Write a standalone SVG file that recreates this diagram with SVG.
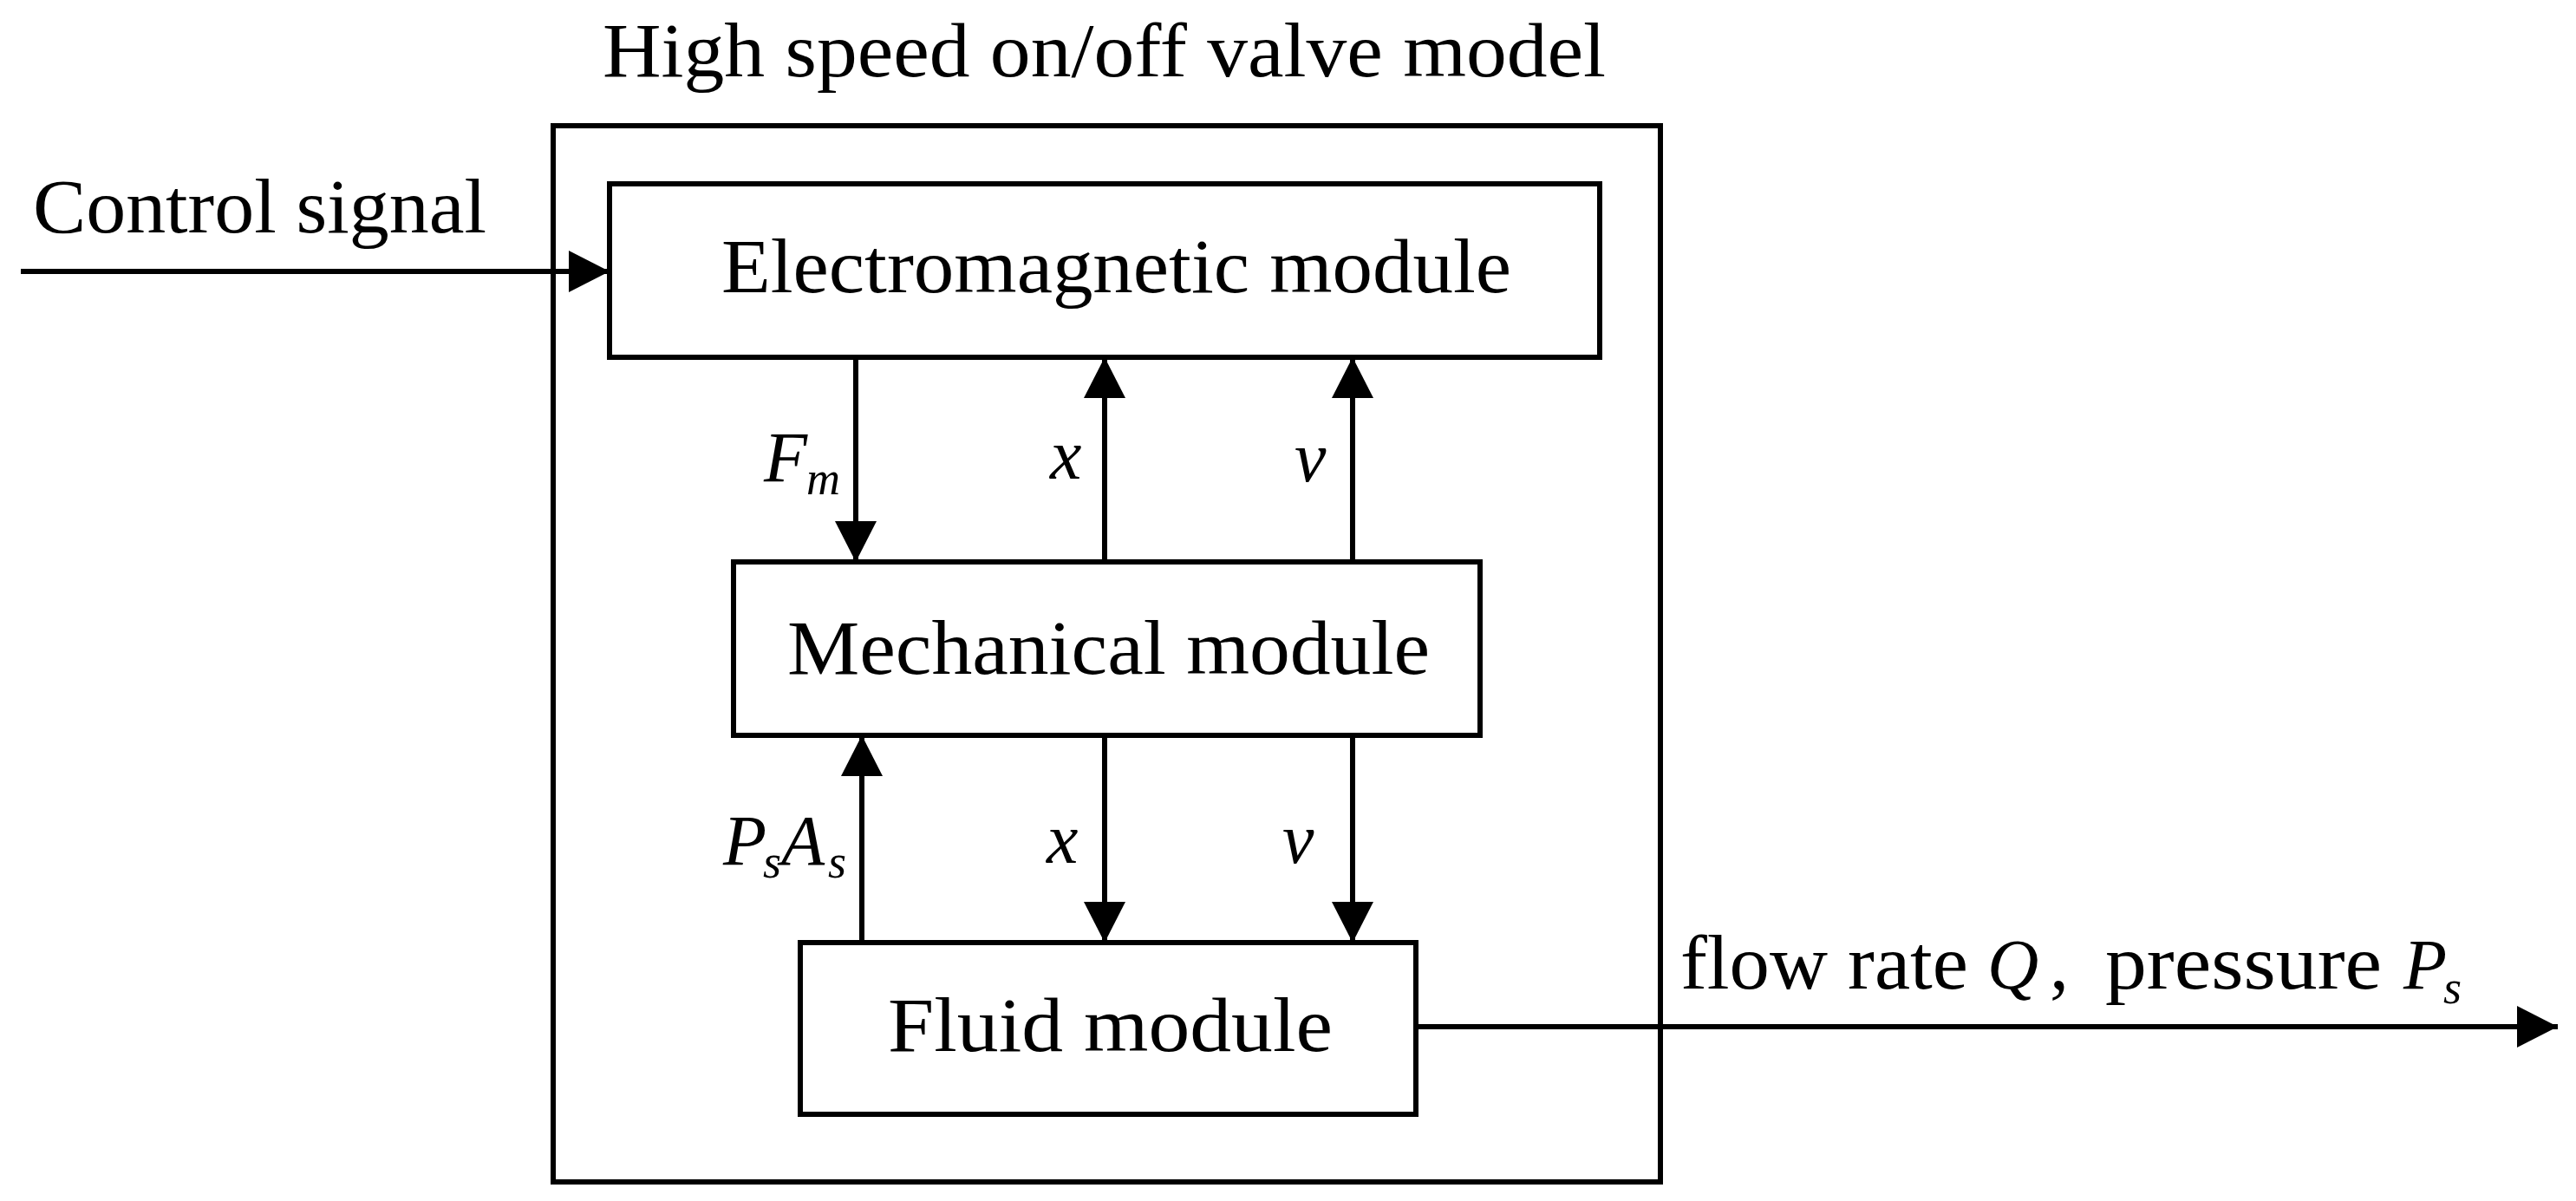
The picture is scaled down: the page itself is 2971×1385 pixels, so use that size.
<svg xmlns="http://www.w3.org/2000/svg" width="2971" height="1385" viewBox="0 0 2971 1385">
<style>
.box{fill:#fff;stroke:#000;stroke-width:6}
.ln{fill:none;stroke:#000;stroke-width:6}
.t{font-family:"Liberation Serif","Times New Roman",serif;font-size:88px;fill:#000}
.m{font-family:"Liberation Serif","Times New Roman",serif;font-style:italic;font-size:82px;fill:#000}
.s{font-family:"Liberation Serif","Times New Roman",serif;font-style:italic;font-size:54px;fill:#000}
</style>
<defs>
<marker id="ah" markerUnits="userSpaceOnUse" markerWidth="50" markerHeight="50" refX="47" refY="24" orient="auto">
<path d="M0,0 L47,24 L0,48 Z" fill="#000"/>
</marker>
</defs>
<rect width="2971" height="1385" fill="#fff"/>
<g id="outer">
<rect class="box" x="638" y="145" width="1277" height="1218" fill="none"/>
<text class="t" x="695" y="88" textLength="1157" lengthAdjust="spacingAndGlyphs">High speed on/off valve model</text>
</g>
<g id="electromagnetic">
<rect class="box" x="703" y="212" width="1142" height="200"/>
<text class="t" x="832" y="337" textLength="911" lengthAdjust="spacingAndGlyphs">Electromagnetic module</text>
</g>
<g id="mechanical">
<rect class="box" x="846" y="648" width="861" height="200"/>
<text class="t" x="908" y="777" textLength="741" lengthAdjust="spacingAndGlyphs">Mechanical module</text>
</g>
<g id="fluid">
<rect class="box" x="923" y="1087" width="710" height="198"/>
<text class="t" x="1024" y="1212" textLength="513" lengthAdjust="spacingAndGlyphs">Fluid module</text>
</g>
<g id="connectors">
<path class="ln" d="M24,313 H703" marker-end="url(#ah)"/>
<path class="ln" d="M987,412 V648" marker-end="url(#ah)"/>
<path class="ln" d="M1274,648 V412" marker-end="url(#ah)"/>
<path class="ln" d="M1560,648 V412" marker-end="url(#ah)"/>
<path class="ln" d="M994,1087 V848" marker-end="url(#ah)"/>
<path class="ln" d="M1274,848 V1087" marker-end="url(#ah)"/>
<path class="ln" d="M1560,848 V1087" marker-end="url(#ah)"/>
<path class="ln" d="M1633,1184 H2950" marker-end="url(#ah)"/>
</g>
<g id="labels">
<text class="t" x="38" y="268" textLength="523" lengthAdjust="spacingAndGlyphs">Control signal</text>
<text class="m" x="881" y="555">F</text><text class="s" x="930" y="570">m</text>
<text class="m" x="1211" y="552">x</text>
<text class="m" x="1493" y="555">v</text>
<text class="m" x="834" y="997">P</text><text class="s" x="880" y="1012">s</text>
<text class="m" x="901" y="997">A</text><text class="s" x="955" y="1012">s</text>
<text class="m" x="1207" y="995">x</text>
<text class="m" x="1479" y="995">v</text>
<text class="t" x="1938" y="1140" textLength="332" lengthAdjust="spacingAndGlyphs">flow rate</text>
<text class="m" x="2292" y="1140">Q</text>
<text class="t" x="2364" y="1140">,</text>
<text class="t" x="2428" y="1140" textLength="319" lengthAdjust="spacingAndGlyphs">pressure</text>
<text class="m" x="2772" y="1140">P</text><text class="s" x="2818" y="1157">s</text>
</g>
</svg>
